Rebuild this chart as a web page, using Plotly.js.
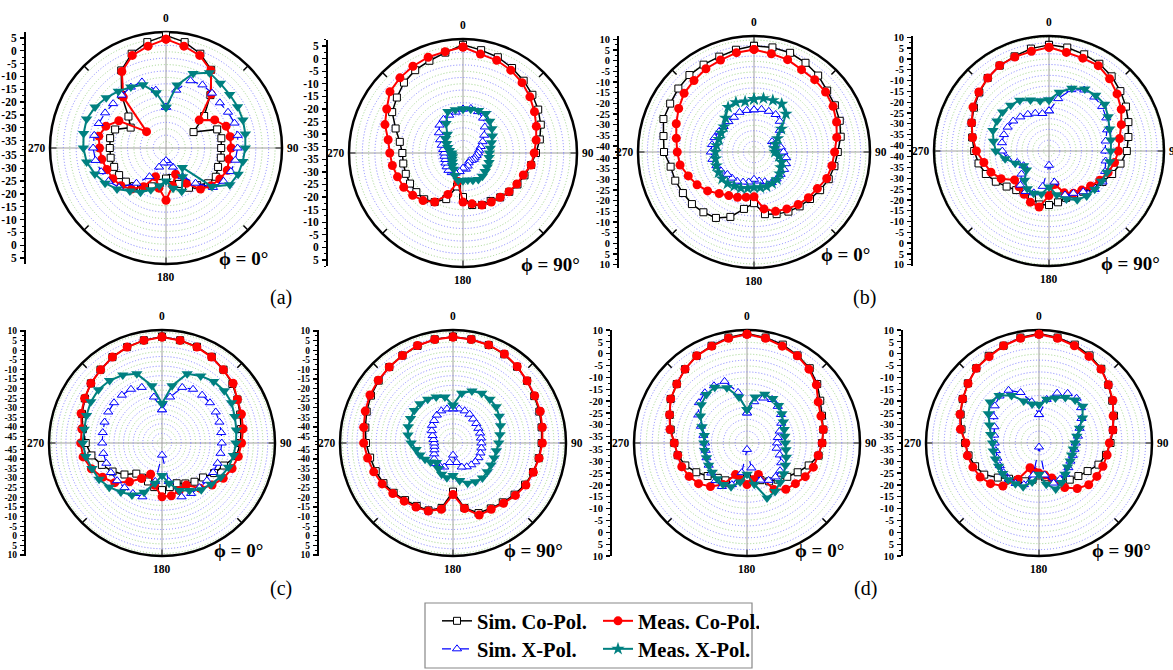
<!DOCTYPE html>
<html><head><meta charset="utf-8">
<script src="https://cdn.plot.ly/plotly-3.0.1.min.js"></script>
<style>html,body{margin:0;padding:0;background:#fff;}#chart{width:1173px;height:670px;}</style>
</head><body><div id="chart"></div>
<script>
// ---------------- DATA ----------------
const THETA = [0,10,20,30,40,50,60,70,80,90,100,110,120,130,140,150,160,170,180,190,200,210,220,230,240,250,260,270,280,290,300,310,320,330,340,350];

// (a) phi = 0
const p1SimCo  = [6,4,1.2,-2.7,-11,-18.5,-25.5,-16.7,-16,-16.4,-16.2,-16.3,-15.5,-16.5,-19,-20,-23,-26,-26,-24,-22,-20,-18.5,-17.5,-16.8,-16.4,-16,-16,-15.8,-16.8,-22,-18.8,-11,-3,1.2,4];
const p1MeasCo = [4.5,2.4,0.5,-3,-10.5,-21,-16,-13,-12.5,-12.5,-13,-12.5,-13.7,-15,-17,-22,-27,-23,-17.5,-22,-26,-20.5,-17,-15,-14,-13.4,-12.5,-12,-11.3,-13,-16.7,-28,-12,-3.5,0.5,2.4];
const p1SimX   = [-22,-15,-10,-9.5,-10,-10.5,-10,-9.5,-9.5,-10,-10.5,-11,-12,-14,-20,-25,-30,-32,-33,-32,-30,-25,-20,-14,-12,-11,-10,-9.5,-9.5,-10,-10.5,-11,-11,-10.5,-10.5,-15];
const p1MeasX  = [-22,-13,-7,-4,-5,-5.5,-5.7,-6,-6.5,-7,-7.5,-8,-9.2,-14.5,-28,-25,-20,-22,-25,-23,-20.6,-18,-16,-13,-10.5,-8.4,-6.5,-5.7,-5.3,-5,-6,-7.5,-9,-10.5,-11.7,-16];
// (a) phi = 90
const p2SimCo  = [5.5,4,3,1.5,0,-1.5,-3,-4.6,-6.5,-8.5,-10,-11.5,-12.5,-13.5,-14.5,-15.5,-15.5,-16.5,-20,-24,-18,-15,-13.5,-13.3,-13.2,-13.3,-13.4,-13.4,-12,-9,-5,-3.2,-1,0.5,1.5,3];
const p2MeasCo = [4.6,2.4,1.7,0.5,-1,-2.8,-4.7,-6.5,-8,-9.2,-10,-12,-12.8,-13.6,-14.5,-15,-15.5,-17,-18,-26,-20,-15,-12.8,-11.4,-10.3,-9.8,-9,-8.4,-7.3,-4.5,-2.5,0.4,1.5,2.3,3,3.4];
const p2SimX   = [-20,-19.5,-20,-21.5,-24,-26.5,-28.5,-30,-31,-31.5,-32,-32.5,-32.5,-33,-33.5,-33,-32,-31,-31.5,-30,-29,-28.5,-28.5,-29,-29.5,-30,-30,-30,-29.5,-28.5,-27,-25,-23,-22,-21.5,-21];
const p2MeasX  = [-20,-19.8,-19.5,-19.4,-21,-22.5,-24,-25.5,-26.5,-27,-27,-26.5,-26.4,-26,-25.5,-25.3,-26,-26.6,-26.5,-26.4,-28,-30,-31,-32,-32.5,-33,-33,-33,-32,-31,-30,-28.5,-27.8,-24,-20,-20];
// (b) phi = 0
const p3SimCo  = [7,7,6.7,5.5,4,2,1,0,-1.5,-3.5,-4.5,-5.5,-7,-8.5,-9.5,-10.5,-11.8,-13.2,-18.8,-15.7,-10.4,-7.1,-5.9,-4.8,-4.3,-3.5,-3.1,-0.6,0.3,2.4,2.6,3.5,4.3,4.5,4.8,5.9];
const p3MeasCo = [5.3,4,3.3,1.8,1.5,1,0,-1.6,-3.4,-5,-5.7,-6.5,-8.5,-9.5,-10.6,-12,-13.2,-15.7,-21.8,-21.3,-20.2,-19.2,-17.4,-14.4,-12,-10,-7.6,-6.8,-5.8,-4,-2,0,1,2.3,3.1,4.5];
const p3SimX   = [-23,-22.5,-22.5,-22.5,-24,-27,-33,-33,-30,-29,-27.5,-26.8,-26.5,-26.5,-26.3,-26.2,-28,-29,-30,-28.5,-27.8,-27,-26.8,-26.5,-25,-24,-23,-22.6,-22.8,-23.1,-23.8,-24.2,-24.2,-24,-23,-23];
const p3MeasX  = [-18,-17.3,-17,-16.8,-19.5,-26,-30,-32,-33,-33,-31,-29,-28.3,-27,-26,-25.8,-25.6,-25.8,-26.2,-25.5,-24.8,-24.3,-23.5,-23.3,-23.6,-24,-24.5,-24.7,-25,-25.3,-25,-24.4,-22,-18.5,-18,-18.8];
// (b) phi = 90
const p4SimCo  = [6.5,6,5,4,2.5,0.5,-1.5,-3.5,-5.3,-6.6,-9,-11.5,-14,-16,-18,-19.5,-19.5,-18.5,-17.6,-17.5,-19.5,-21,-19,-17,-14.2,-11.5,-9.5,-8,-6.5,-4.5,-2.5,-0.5,1.5,3,4,5.5];
const p4MeasCo = [5.4,3.7,3.1,3,1,-1.5,-4,-7,-9.5,-10.5,-11.8,-13.5,-15.5,-17.5,-19,-20,-22,-26.9,-22,-16.3,-17.4,-19.5,-21,-21.8,-17,-14,-12,-9,-6.7,-4.5,-2,-0.2,1.5,3.1,3.7,4.2];
const p4SimX   = [-24,-18,-12.4,-10,-10,-10.5,-12,-14,-16,-16.6,-16,-15,-14,-15,-18,-20,-21,-28,-36,-26,-22,-21,-22,-26,-29,-27,-23,-21,-20.5,-20.4,-20.5,-21,-22,-23,-24,-25];
const p4MeasX  = [-19,-15,-11.7,-9.5,-9,-9,-11,-12.8,-13.5,-14,-14,-14,-14.5,-15,-15.5,-16.5,-19,-22,-26,-22.4,-21.8,-22.5,-25,-29,-29,-26,-22,-18,-16.5,-15,-14.8,-14.6,-15,-15.5,-17.5,-19];
// (c) phi = 0
const p5SimCo  = [7,6,5,3.5,1.5,-0.5,-3,-5,-6.5,-7.5,-9,-14,-17,-20.4,-22,-24,-26,-25,-23.8,-25,-27,-27.5,-27.5,-22.8,-18.6,-15,-11,-8.6,-6.5,-4,-2,0,1.5,3.3,4.8,6];
const p5MeasCo = [6.8,5.9,4.8,3.3,1.4,0,-3,-4.3,-5.5,-6.9,-8,-9.5,-11.5,-14.3,-17.5,-23,-22,-20.4,-20.3,-26,-31,-27,-22,-16.2,-12.6,-9.2,-6.6,-6,-5.9,-3.5,-1.8,0,1.4,3.3,4.8,5.9];
const p5SimX   = [-31,-24,-17.5,-16,-15.8,-15.7,-16,-16.5,-17,-17.2,-17.4,-17.5,-17.6,-17.8,-18,-18,-18.5,-28,-42,-28,-18.5,-18,-18,-17.8,-17.6,-17.5,-17.3,-17.2,-17,-16.5,-16,-15.7,-15.8,-16,-17.5,-24];
const p5MeasX  = [-27.8,-18,-10,-8,-6.5,-6,-6.5,-8,-9,-9.8,-10.5,-11.5,-13,-15,-16.5,-19.7,-22,-27,-31.4,-27,-21,-17,-15,-12.5,-10.5,-9.5,-8,-7,-7.2,-6.5,-5.5,-5.1,-5.9,-7.5,-10,-18];
// (c) phi = 90
const p6SimCo  = [7,6.5,6,5,3.5,2,0.5,-0.5,-1.5,-2.2,-3,-4,-5,-6.5,-8,-9,-9.5,-14,-23,-14,-11,-10.5,-9.5,-8,-6.5,-5.5,-4.5,-3,-2,-0.5,1,2.2,3.3,4.3,5.5,6.5];
const p6MeasCo = [6.8,6.4,6,5.2,3.7,2,0.8,0,-1.1,-1.8,-2.8,-3.8,-4.5,-5.9,-7.4,-8.5,-8.4,-13.7,-21.5,-13.3,-10.6,-9.8,-8.8,-7.4,-5.7,-4.4,-3.2,-1.8,-1.1,0.3,1.6,2.5,3.3,4.3,5.7,6.4];
const p6SimX   = [-30.5,-30.3,-30.5,-31,-32,-32.5,-33,-33.3,-33.5,-33.5,-33.3,-33.1,-33,-33.1,-33.5,-34,-35,-38,-42,-38,-35,-34.5,-34.3,-35.5,-37,-38,-38.5,-38.5,-38,-37,-35.5,-34,-33,-31.5,-30.5,-30.3];
const p6MeasX  = [-28.6,-22,-19.5,-18.4,-18.5,-19,-20.5,-22,-23.5,-24.5,-25.4,-25.5,-25.5,-25,-24.5,-25,-26,-28.5,-31.4,-30,-31,-33,-35,-33,-31.5,-30,-28.8,-26.5,-24.5,-23.5,-22.8,-22,-21.6,-22,-22.8,-24];
// (d) phi = 0
const p7SimCo  = [8.5,7.5,6.5,5,3.5,1,-2,-4,-5,-6,-7,-10,-13,-15.5,-17.5,-19,-21,-22,-23,-22,-20.5,-19.5,-18.5,-16,-13,-10,-8,-7,-5,-3,-0.5,1,3,4.8,6,7.5];
const p7MeasCo = [8.2,7.2,5.8,4.8,3,0.5,-3,-4.5,-5,-6,-7.2,-7.9,-9.3,-11,-12.2,-15,-23.6,-22,-20.2,-22,-23.5,-17.5,-13.7,-11,-9.5,-8.4,-8,-7,-4.7,-2.9,-0.5,1,3,4.8,5.8,7.2];
const p7SimX   = [-25,-20,-17.5,-16.5,-17.5,-19,-21,-23,-24.5,-25,-25,-23,-21,-19.5,-19,-19.5,-21,-27,-35,-25,-19,-16.5,-17,-18,-19,-19.5,-20,-20,-19,-17,-14,-11.2,-10,-9.8,-10,-16];
const p7MeasX  = [-23.6,-18,-15.8,-16,-17,-18.5,-20,-21,-21.5,-21.5,-21,-20,-19,-17.5,-16,-14,-13,-20,-24.5,-21,-18,-17.5,-18,-18.5,-19,-19.5,-19.5,-19.5,-19.4,-17.5,-15,-12.5,-11,-10.5,-12.9,-18];
// (d) phi = 90
const p8SimCo  = [8.5,7.5,6.5,5,3.2,0.5,-2,-4,-6,-7.5,-9,-11,-14,-16,-17.5,-19,-21,-23,-24,-22,-20.5,-19.5,-18,-15,-11,-9,-7.5,-6.5,-4.5,-2.5,-0.5,1.5,3.5,4.8,6,7.5];
const p8MeasCo = [8.2,7.2,6,4.5,3,0.5,-1.7,-4.4,-6,-8,-8.5,-9,-9.5,-10.3,-12.6,-16,-22,-24,-25,-25.5,-26.6,-20,-14,-11,-9,-8,-7,-6.8,-4,-2.2,-0.5,1.4,3.5,4.4,6,7.2];
const p8SimX   = [-25.7,-19,-15.3,-13.5,-13,-14.5,-17,-19.5,-21,-22.2,-22.5,-22.5,-22.4,-21.5,-20.5,-20,-19.7,-24,-36,-24,-19,-18,-17.8,-18.2,-18.6,-19,-19.2,-19,-18.5,-17.7,-15.5,-13.3,-11.8,-12,-15,-20];
const p8MeasX  = [-21.5,-19,-17.5,-15.5,-14,-13.6,-16.5,-19.5,-21.5,-22.5,-23,-23,-22.5,-22,-20.5,-18.5,-17,-20,-24.5,-21,-18.1,-17.8,-17.5,-17.7,-18,-18.1,-18.1,-18.1,-17,-15.5,-13,-10.8,-11.5,-14.5,-18.8,-21];

const SERIES_NAMES = ['Sim. Co-Pol.','Meas. Co-Pol.','Sim. X-Pol.','Meas. X-Pol.'];
const ANGLE_LABELS = ['0','90','180','270'];
const PHI_LABELS = ['ϕ = 0°','ϕ = 90°','ϕ = 0°','ϕ = 90°','ϕ = 0°','ϕ = 90°','ϕ = 0°','ϕ = 90°'];
const PANEL_LABELS = ['(a)','(b)','(c)','(d)'];
const SCALE_TOP = [5,5,10,10,10,10,10,10];
const SCALE_BOTTOM = [-35,-35,-40,-40,-45,-45,-35,-35];
const SERIES = [
  [p1SimCo,p1MeasCo,p1SimX,p1MeasX],[p2SimCo,p2MeasCo,p2SimX,p2MeasX],
  [p3SimCo,p3MeasCo,p3SimX,p3MeasX],[p4SimCo,p4MeasCo,p4SimX,p4MeasX],
  [p5SimCo,p5MeasCo,p5SimX,p5MeasX],[p6SimCo,p6MeasCo,p6SimX,p6MeasX],
  [p7SimCo,p7MeasCo,p7SimX,p7MeasX],[p8SimCo,p8MeasCo,p8SimX,p8MeasX]
];

// ---------------- LAYOUT GEOMETRY ----------------
const W = 1173, H = 670;
const FONT = 'Liberation Serif, Times New Roman, serif';
const GEOM = [
  {cx:166, cy:148, R:116, rmin:-37.9, rmax:7.3,  sx:26,  px:243,  py:258, star:false, fs:11.5},
  {cx:463, cy:153, R:114, rmin:-37.5, rmax:7.8,  sx:328, px:550,  py:264, star:false, fs:11.5},
  {cx:754, cy:152, R:116, rmin:-42.8, rmax:11.6, sx:619, px:845,  py:254, star:true,  fs:10.5},
  {cx:1049,cy:151, R:115, rmin:-42.6, rmax:10.6, sx:913, px:1130, py:263, star:false, fs:10.5},
  {cx:162, cy:443, R:113, rmin:-48.3, rmax:10.5, sx:26,  px:238,  py:550, star:false, fs:9.5},
  {cx:453, cy:443, R:113, rmin:-48.3, rmax:10.5, sx:319, px:533,  py:550, star:false, fs:9.5},
  {cx:747, cy:443, R:113, rmin:-37.7, rmax:10.0, sx:612, px:819,  py:550, star:false, fs:10.5},
  {cx:1039,cy:443, R:113, rmin:-37.7, rmax:10.0, sx:903, px:1121, py:550, star:false, fs:10.5}
];
const PANEL_LABEL_POS = [[281,297],[864,297],[281,588],[865,588]];

const STYLES = [
  {line:{color:'#000000',width:1.5}, marker:{symbol:'square',size:7,color:'#ffffff',line:{color:'#000000',width:1}}},
  {line:{color:'#ff0000',width:2},   marker:{symbol:'circle',size:9,color:'#ff0000',line:{width:0}}},
  {line:{color:'#0000ff',width:1.2,dash:'dash'}, marker:{symbol:'triangle-up',size:8,color:'#ffffff',line:{color:'#0000ff',width:1}}},
  {line:{color:'#008080',width:2},   marker:{symbol:'triangle-down',size:10,color:'#008080',line:{width:0}}}
];

const data = [];
const LEGEND_BASE = {orientation:'h', x:437/W, xanchor:'left', yanchor:'top',
  bgcolor:'rgba(0,0,0,0)', borderwidth:0, entrywidth:116, entrywidthmode:'pixels', itemwidth:30,
  font:{family:FONT,size:20.5,color:'#000',weight:'bold'}};
const layout = {
  width:W, height:H, margin:{l:0,r:0,t:0,b:0,pad:0},
  paper_bgcolor:'#ffffff', plot_bgcolor:'rgba(0,0,0,0)',
  font:{family:FONT,color:'#000'},
  showlegend:true,
  legend:Object.assign({}, LEGEND_BASE, {y:1-601/H}),
  legend2:Object.assign({}, LEGEND_BASE, {y:1-629/H}),
  annotations:[], shapes:[]
};
const AFONT = {family:FONT,size:11.5,color:'#000',weight:'bold'};

GEOM.forEach((g,i)=>{
  const nA = 2*i+1, nB = 2*i+2;
  const idA = nA===1 ? 'polar' : 'polar'+nA;
  const idB = 'polar'+nB;
  const dom = {x:[(g.cx-g.R)/W,(g.cx+g.R)/W], y:[1-(g.cy+g.R)/H, 1-(g.cy-g.R)/H]};
  // background polar: green minor circles + 45-degree ticks
  layout[idA] = {
    domain:dom, bgcolor:'rgba(0,0,0,0)',
    angularaxis:{rotation:90, direction:'clockwise', tickmode:'linear', tick0:0, dtick:45,
      showticklabels:false, ticks:'inside', ticklen:6, tickwidth:1.5, tickcolor:'#000',
      showgrid:false, showline:false},
    radialaxis:{range:[g.rmin,g.rmax], tickmode:'linear', tick0:g.rmin+2.5, dtick:5,
      showticklabels:false, ticks:'', showline:false, showgrid:true,
      gridcolor:'#9ed58a', gridwidth:1, griddash:'1px,2px'}
  };
  data.push({type:'scatterpolar', subplot:idA, r:[], theta:[], mode:'lines', showlegend:false, hoverinfo:'skip'});
  // main polar
  layout[idB] = {
    domain:dom, bgcolor:'rgba(0,0,0,0)',
    angularaxis:{rotation:90, direction:'clockwise', tickmode:'array', tickvals:[0,90,180,270],
      showticklabels:false, ticks:'',
      showgrid:true, gridcolor:'#a0a0a0', gridwidth:1, showline:true, linecolor:'#000', linewidth:2.5,
      layer:'below traces'},
    radialaxis:{range:[g.rmin,g.rmax], tickmode:'linear', tick0:g.rmin, dtick:5,
      showticklabels:false, ticks:'', showline:false, showgrid:true,
      gridcolor:'#7f7fff', gridwidth:1, griddash:'1px,2px', layer:'below traces'}
  };
  SERIES[i].forEach((arr,s)=>{
    const st = STYLES[s];
    const marker = Object.assign({}, st.marker);
    if (s===3 && g.star) { marker.symbol = 'star'; marker.size = 10; }
    const show = (i===0 && s<3) || (i===2 && s===3);
    data.push({
      type:'scatterpolar', subplot:idB, mode:'lines+markers',
      r:arr.concat([arr[0]]), theta:THETA.concat([360]),
      name:SERIES_NAMES[s], line:Object.assign({},st.line), marker:marker,
      showlegend:show, legend: s<2 ? 'legend' : 'legend2', hoverinfo:'skip'
    });
  });
  // angular labels placed around the circle
  const angPos = [
    {x:g.cx, y:g.cy-g.R-14, xa:'center'},
    {x:g.cx+g.R+3, y:g.cy, xa:'left'},
    {x:g.cx, y:g.cy+g.R+13, xa:'center'},
    {x:g.cx-g.R-2, y:g.cy, xa:'right'}
  ];
  angPos.forEach((a,j)=>{
    layout.annotations.push({text:ANGLE_LABELS[j], x:a.x/W, y:1-a.y/H, xref:'paper', yref:'paper',
      showarrow:false, xanchor:a.xa, yanchor:'middle', font:AFONT});
  });
  // vertical dB scale bar (Origin style)
  const k = i+1;
  const ppd = g.R/(g.rmax-g.rmin);
  const hb = Math.min(g.R, (SCALE_TOP[i]+2.5-g.rmin)*ppd);
  const ext = hb/ppd;
  const tv=[], tt=[], mv=[];
  for (let v=SCALE_TOP[i]; v>=SCALE_BOTTOM[i]; v-=5){
    tv.push(v-g.rmin); tt.push(String(v));
    tv.push(-(v-g.rmin)); tt.push(String(v));
  }
  for (let v=SCALE_TOP[i]+2.5; v>g.rmin; v-=5){
    if (v-g.rmin<=ext){ mv.push(v-g.rmin); mv.push(-(v-g.rmin)); }
  }
  const xk = k===1?'x':'x'+k, yk = k===1?'y':'y'+k;
  layout[k===1?'xaxis':'xaxis'+k] = {domain:[g.sx/W,(g.sx+2)/W], anchor:yk, visible:false, range:[0,1], fixedrange:true};
  layout[k===1?'yaxis':'yaxis'+k] = {
    domain:[1-(g.cy+hb)/H, 1-(g.cy-hb)/H], anchor:xk, range:[-ext,ext], side:'left',
    showline:true, linecolor:'#000', linewidth:2, showgrid:false, zeroline:false,
    ticks:'outside', ticklen:4, tickwidth:1.3, tickcolor:'#000',
    tickmode:'array', tickvals:tv, ticktext:tt, ticklabelstandoff:1,
    tickfont:{family:FONT,size:g.fs,color:'#000',weight:'bold'},
    minor:{tickmode:'array', tickvals:mv, ticks:'outside', ticklen:2, tickwidth:1, tickcolor:'#000', showgrid:false},
    fixedrange:true
  };
  data.push({type:'scatter', x:[], y:[], xaxis:xk, yaxis:yk, showlegend:false, hoverinfo:'skip'});
  layout.annotations.push({text:PHI_LABELS[i], x:g.px/W, y:1-g.py/H, xref:'paper', yref:'paper',
    showarrow:false, xanchor:'center', yanchor:'middle',
    font:{family:FONT,size:19,color:'#000',weight:'bold'}});
});
PANEL_LABELS.forEach((t,j)=>{
  layout.annotations.push({text:t, x:PANEL_LABEL_POS[j][0]/W, y:1-PANEL_LABEL_POS[j][1]/H,
    xref:'paper', yref:'paper', showarrow:false, xanchor:'center', yanchor:'middle',
    font:{family:FONT,size:20,color:'#000'}});
});
layout.shapes.push({type:'rect', xref:'paper', yref:'paper', x0:425/W, x1:752/W, y0:1-668/H, y1:1-603/H,
  line:{color:'#888',width:1.2}, fillcolor:'rgba(0,0,0,0)'});

Plotly.newPlot('chart', data, layout, {displayModeBar:false, staticPlot:true});
</script></body></html>
